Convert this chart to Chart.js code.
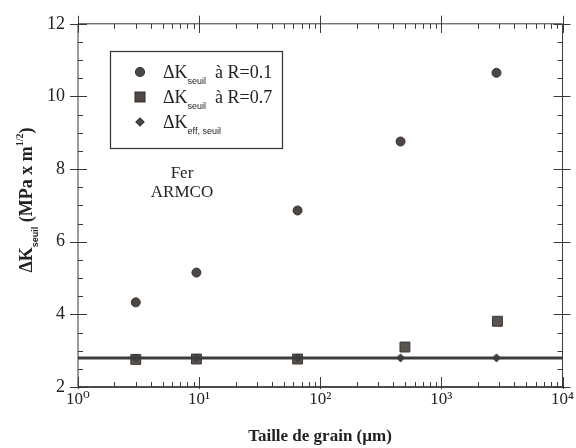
<!DOCTYPE html>
<html>
<head>
<meta charset="utf-8">
<script src="https://cdn.jsdelivr.net/npm/chart.js@4"></script>
<style>
    html, body { margin: 0; padding: 0; background: #fff; }
    #wrap { width: 576px; height: 448px; }
</style>
</head>
<body>
<div id="wrap"><canvas id="chart" width="576" height="448"></canvas></div>
<script>
// Grain sizes (µm) and threshold values
const grainR01 = [3, 9.5, 65, 460, 2850];
const dkR01 = [4.33, 5.15, 6.86, 8.76, 10.65];

const grainR07 = [3, 9.5, 65, 500, 2900];
const dkR07 = [2.76, 2.77, 2.77, 3.1, 3.81];

const grainEff = [3, 9.5, 65, 460, 2850];
const dkEff = [2.8, 2.8, 2.8, 2.8, 2.8];

// Horizontal fit line for the effective threshold
const lineX = [1, 10000];
const lineY = [2.8, 2.8];

const xDecades = [1, 10, 100, 1000, 10000];
const yTicks = [2, 4, 6, 8, 10, 12];

const SERIF = '"Liberation Serif", "DejaVu Serif", serif';
const SUP = ['\u2070', '\u00B9', '\u00B2', '\u00B3', '\u2074'];

function toPoints(xs, ys) {
    return xs.map((x, i) => ({ x: x, y: ys[i] }));
}

// Draw a run of text pieces (with sub/superscripts) starting at x, baseline y
function drawParts(ctx, parts, x, y) {
    parts.forEach(p => {
        ctx.font = p.font;
        ctx.fillText(p.text, x, y + (p.dy || 0));
        x += ctx.measureText(p.text).width;
    });
}

function partsWidth(ctx, parts) {
    let w = 0;
    parts.forEach(p => {
        ctx.font = p.font;
        w += ctx.measureText(p.text).width;
    });
    return w;
}

// Frame, tick marks, legend box, annotations and axis titles
const decorPlugin = {
    id: 'decor',
    beforeDatasetsDraw(chart) {
        const ctx = chart.ctx;
        const a = chart.chartArea;
        const xs = chart.scales.x;
        const ys = chart.scales.y;
        ctx.save();
        ctx.strokeStyle = '#3a3a3a';
        ctx.lineWidth = 1;

        // frame
        ctx.beginPath();
        ctx.moveTo(a.left, a.bottom);
        ctx.lineTo(a.left, a.top);
        ctx.lineTo(a.right, a.top);
        ctx.lineTo(a.right, a.bottom);
        ctx.stroke();
        ctx.strokeStyle = '#111';
        ctx.lineWidth = 1.6;
        ctx.beginPath();
        ctx.moveTo(a.left, a.bottom);
        ctx.lineTo(a.right + 1, a.bottom);
        ctx.stroke();

        ctx.strokeStyle = '#3a3a3a';
        ctx.lineWidth = 1;
        ctx.beginPath();
        // y ticks
        for (let v = 2; v <= 12.001; v += 0.5) {
            const py = Math.round(ys.getPixelForValue(v)) + 0.5;
            const major = Math.abs(v % 2) < 0.01;
            if (major) {
                ctx.moveTo(a.left - 8, py); ctx.lineTo(a.left + 9, py);
                ctx.moveTo(a.right - 9, py); ctx.lineTo(a.right + 8, py);
            } else {
                ctx.moveTo(a.left, py); ctx.lineTo(a.left + 5, py);
                ctx.moveTo(a.right - 5, py); ctx.lineTo(a.right, py);
            }
        }
        // x ticks (log)
        for (let d = 1; d < 10000; d *= 10) {
            for (let m = 1; m <= 10; m++) {
                const v = d * m;
                const px = Math.round(xs.getPixelForValue(v)) + 0.5;
                if (m === 1 || m === 10) {
                    ctx.moveTo(px, a.bottom + 2); ctx.lineTo(px, a.bottom - 10);
                    ctx.moveTo(px, a.top - 8); ctx.lineTo(px, a.top + 9);
                } else {
                    ctx.moveTo(px, a.bottom); ctx.lineTo(px, a.bottom - 5);
                    ctx.moveTo(px, a.top); ctx.lineTo(px, a.top + 5);
                }
            }
        }
        ctx.stroke();

        // legend box
        ctx.strokeStyle = '#333';
        ctx.lineWidth = 1.2;
        ctx.strokeRect(110.5, 51.5, 172, 97);

        ctx.fillStyle = '#222';
        ctx.textBaseline = 'alphabetic';
        ctx.textAlign = 'left';
        const big = '18px ' + SERIF;
        const small = '9px "Liberation Sans", Arial, sans-serif';
        const rows = [
            { style: 'circle', r: 4.5, y: 72, parts: [{ text: '\u0394K', font: big }, { text: 'seuil', font: small, dy: 6 }, { text: '  \u00E0 R=0.1', font: big }] },
            { style: 'rect', r: 7, y: 97, parts: [{ text: '\u0394K', font: big }, { text: 'seuil', font: small, dy: 6 }, { text: '  \u00E0 R=0.7', font: big }] },
            { style: 'rectRot', r: 4, y: 122, parts: [{ text: '\u0394K', font: big }, { text: 'eff, seuil', font: small, dy: 6 }] }
        ];
        rows.forEach(row => {
            ctx.fillStyle = '#4d4642';
            ctx.strokeStyle = '#3a3532';
            Chart.helpers.drawPoint(ctx, { pointStyle: row.style, radius: row.r, rotation: 0, borderWidth: 1 }, 140, row.y);
            ctx.fillStyle = '#222';
            drawParts(ctx, row.parts, 163, row.y + 6);
        });

        // material label
        ctx.textAlign = 'center';
        ctx.font = '17px ' + SERIF;
        ctx.fillText('Fer', 182, 178);
        ctx.fillText('ARMCO', 182, 197);

        // x title
        ctx.font = 'bold 17px ' + SERIF;
        ctx.fillText('Taille de grain (\u00B5m)', 320, 441);

        // y title (rotated)
        ctx.textAlign = 'left';
        const tb = 'bold 18px ' + SERIF;
        const ts = 'bold 9px "Liberation Sans", Arial, sans-serif';
        const tparts = [
            { text: '\u0394K', font: tb },
            { text: 'seuil', font: ts, dy: 6 },
            { text: ' (MPa x m', font: tb },
            { text: '1/2', font: 'bold 10px ' + SERIF, dy: -9 },
            { text: ')', font: tb }
        ];
        const tw = partsWidth(ctx, tparts);
        ctx.translate(32, 200);
        ctx.rotate(-Math.PI / 2);
        drawParts(ctx, tparts, -tw / 2, 0);
        ctx.restore();
    }
};

const ctx = document.getElementById('chart').getContext('2d');
const chart = new Chart(ctx, {
    type: 'scatter',
    data: {
        datasets: [
            {
                type: 'line',
                label: 'fit',
                data: toPoints(lineX, lineY),
                borderColor: '#3c3c3c',
                borderWidth: 3,
                pointRadius: 0
            },
            {
                label: '\u0394K eff, seuil',
                data: toPoints(grainEff, dkEff),
                pointStyle: 'rectRot',
                pointRadius: 4,
                backgroundColor: '#4d4642',
                borderColor: '#3a3532',
                borderWidth: 1
            },
            {
                label: '\u0394K seuil \u00E0 R=0.7',
                data: toPoints(grainR07, dkR07),
                pointStyle: 'rect',
                pointRadius: 7,
                backgroundColor: '#5a5450',
                borderColor: '#3a3532',
                borderWidth: 1
            },
            {
                label: '\u0394K seuil \u00E0 R=0.1',
                data: toPoints(grainR01, dkR01),
                pointStyle: 'circle',
                pointRadius: 4.5,
                backgroundColor: '#4d4642',
                borderColor: '#3a3532',
                borderWidth: 1
            }
        ]
    },
    options: {
        responsive: false,
        animation: false,
        layout: { padding: { top: 22, right: 11, left: 0, bottom: 0 } },
        plugins: {
            legend: { display: false },
            tooltip: { enabled: false }
        },
        scales: {
            x: {
                type: 'logarithmic',
                min: 1,
                max: 10000,
                grid: { display: false, drawTicks: false, tickLength: 0 },
                border: { display: false },
                afterBuildTicks: scale => {
                    scale.ticks = xDecades.map(v => ({ value: v }));
                },
                afterFit: scale => { scale.height = 61; },
                ticks: {
                    autoSkip: false,
                    maxRotation: 0,
                    padding: 2,
                    color: '#222',
                    font: { family: SERIF, size: 17 },
                    callback: v => '10' + SUP[Math.round(Math.log10(v))]
                }
            },
            y: {
                min: 2,
                max: 12,
                grid: { display: false, drawTicks: false, tickLength: 0 },
                border: { display: false },
                afterBuildTicks: scale => {
                    scale.ticks = yTicks.map(v => ({ value: v }));
                },
                afterFit: scale => { scale.width = 78; },
                ticks: {
                    padding: 13,
                    color: '#222',
                    font: { family: SERIF, size: 18 }
                }
            }
        }
    },
    plugins: [decorPlugin]
});
</script>
</body>
</html>
